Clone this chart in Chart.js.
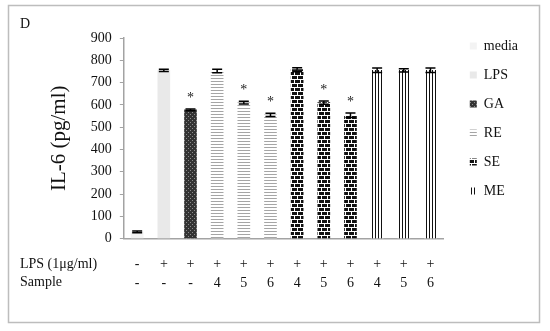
<!DOCTYPE html>
<html>
<head>
<meta charset="utf-8">
<script src="https://cdn.jsdelivr.net/npm/chart.js@4"></script>
<style>
  html, body { margin: 0; padding: 0; background: #fff; }
  #wrap { width: 550px; height: 331px; }
</style>
</head>
<body>
<div id="wrap"><canvas id="il6Chart" width="550" height="331"></canvas></div>
<script>
// Treatment table under the bars
const lpsRow = ['-', '+', '+', '+', '+', '+', '+', '+', '+', '+', '+', '+'];
const sampleRow = ['-', '-', '-', '4', '5', '6', '4', '5', '6', '4', '5', '6'];

// Legend groups and which group each bar belongs to
const groups = ['media', 'LPS', 'GA', 'RE', 'SE', 'ME'];
const groupOf = [0, 1, 2, 3, 3, 3, 4, 4, 4, 5, 5, 5];

// IL-6 (pg/ml)
const il6 = [30, 755, 578, 752, 610, 555, 758, 610, 553, 755, 755, 755];
const il6Err = [4, 5, 4, 8, 6, 7, 9, 7, 10, 10, 7, 10];
const significant = [false, false, true, false, true, true, false, true, true, false, false, false];

const yMax = 900;
const yStep = 100;

const serif = '"Liberation Serif", "DejaVu Serif", serif';

const makePattern = (w, h, draw) => {
    const c = document.createElement('canvas');
    c.width = w;
    c.height = h;
    const g = c.getContext('2d');
    draw(g);
    return g.createPattern(c, 'repeat');
};

const fills = [
    '#f3f3f3',
    '#e9e9e9',
    // GA - dark checker
    makePattern(4, 4, g => {
        g.fillStyle = '#333';
        g.fillRect(0, 0, 4, 4);
        g.fillStyle = '#8c8c8c';
        g.fillRect(0, 0, 1, 1);
        g.fillRect(2, 2, 1, 1);
    }),
    // RE - light horizontal stripes
    makePattern(2, 3, g => {
        g.fillStyle = '#fff';
        g.fillRect(0, 0, 2, 3);
        g.fillStyle = '#a5a5a5';
        g.fillRect(0, 0, 2, 1);
    }),
    // SE - brick
    makePattern(6, 8, g => {
        g.fillStyle = '#111';
        g.fillRect(0, 0, 6, 8);
        g.fillStyle = '#fff';
        g.fillRect(0, 3, 6, 1);
        g.fillRect(0, 7, 6, 1);
        g.fillRect(0, 0, 1, 3);
        g.fillRect(3, 4, 1, 3);
    }),
    // ME - vertical lines
    makePattern(3, 2, g => {
        g.fillStyle = '#fff';
        g.fillRect(0, 0, 3, 2);
        g.fillStyle = '#111';
        g.fillRect(0, 0, 1, 2);
    })
];

const datasets = groups.map((name, k) => ({
    label: name,
    data: il6.map((v, i) => groupOf[i] === k ? v : null),
    backgroundColor: fills[k],
    borderWidth: 0,
    barThickness: 12
}));

// frame, panel letter and the row titles of the table
const figureDecor = {
    id: 'figureDecor',
    beforeDraw(chart) {
        const {ctx} = chart;
        ctx.save();
        ctx.fillStyle = '#fff';
        ctx.fillRect(0, 0, chart.width, chart.height);
        ctx.strokeStyle = '#bdbdbd';
        ctx.lineWidth = 1.5;
        ctx.strokeRect(8.5, 5.5, 531, 317);
        ctx.restore();
    },
    afterDraw(chart) {
        const {ctx} = chart;
        const x = chart.scales.x;
        ctx.save();
        ctx.fillStyle = '#111';
        ctx.font = '14px ' + serif;
        ctx.textAlign = 'left';
        ctx.textBaseline = 'middle';
        ctx.fillText('D', 20, 24);
        ctx.fillText('LPS (1\u03bcg/ml)', 20, x.top + 26);
        ctx.fillText('Sample', 20, x.top + 44);
        ctx.restore();
    }
};

// error bars and significance stars
const errorBars = {
    id: 'errorBars',
    afterDatasetsDraw(chart) {
        const {ctx} = chart;
        const x = chart.scales.x;
        const y = chart.scales.y;
        ctx.save();
        ctx.strokeStyle = '#000';
        ctx.lineWidth = 1.5;
        il6.forEach((v, i) => {
            const cx = x.getPixelForValue(i);
            const top = y.getPixelForValue(v + il6Err[i]);
            const bot = y.getPixelForValue(v - il6Err[i]);
            ctx.beginPath();
            ctx.moveTo(cx, top);
            ctx.lineTo(cx, bot);
            ctx.moveTo(cx - 5, top);
            ctx.lineTo(cx + 5, top);
            ctx.moveTo(cx - 5, bot);
            ctx.lineTo(cx + 5, bot);
            ctx.stroke();
            if (significant[i]) {
                ctx.fillStyle = '#222';
                ctx.font = '14px ' + serif;
                ctx.textAlign = 'center';
                ctx.textBaseline = 'alphabetic';
                ctx.fillText('*', cx, top - 7);
            }
        });
        ctx.restore();
    }
};

new Chart(document.getElementById('il6Chart'), {
    type: 'bar',
    data: {
        labels: lpsRow.map((l, i) => [l, sampleRow[i]]),
        datasets: datasets
    },
    options: {
        responsive: false,
        animation: false,
        devicePixelRatio: 1,
        layout: {
            padding: {left: 43, right: 22, top: 24, bottom: 22}
        },
        plugins: {
            legend: {
                position: 'right',
                align: 'start',
                labels: {
                    boxWidth: 7,
                    boxHeight: 7,
                    padding: 15,
                    color: '#111',
                    font: {family: serif, size: 14}
                }
            },
            tooltip: {enabled: false}
        },
        scales: {
            x: {
                stacked: true,
                grid: {display: false, drawTicks: false},
                border: {color: '#a3a3a3', width: 1.5},
                ticks: {
                    color: '#111',
                    padding: 17,
                    autoSkip: false,
                    maxRotation: 0,
                    font: {family: serif, size: 14, lineHeight: 1.3}
                }
            },
            x2: {
                position: 'top',
                type: 'category',
                labels: [''],
                grid: {display: false},
                border: {display: false},
                ticks: {display: false},
                afterFit(scale) { scale.height = 14; }
            },
            y: {
                stacked: true,
                min: 0,
                max: yMax,
                grid: {drawOnChartArea: false, color: '#a3a3a3', tickLength: 4},
                border: {color: '#a3a3a3', width: 1.5},
                ticks: {
                    stepSize: yStep,
                    color: '#111',
                    padding: 8,
                    font: {family: serif, size: 14}
                },
                title: {
                    display: true,
                    text: 'IL-6 (pg/ml)',
                    color: '#111',
                    padding: {top: 4, bottom: 20},
                    font: {family: serif, size: 21}
                }
            },
            y2: {
                position: 'right',
                type: 'linear',
                grid: {display: false},
                border: {display: false},
                ticks: {display: false},
                afterFit(scale) { scale.width = 11; }
            }
        }
    },
    plugins: [figureDecor, errorBars]
});
</script>
</body>
</html>
